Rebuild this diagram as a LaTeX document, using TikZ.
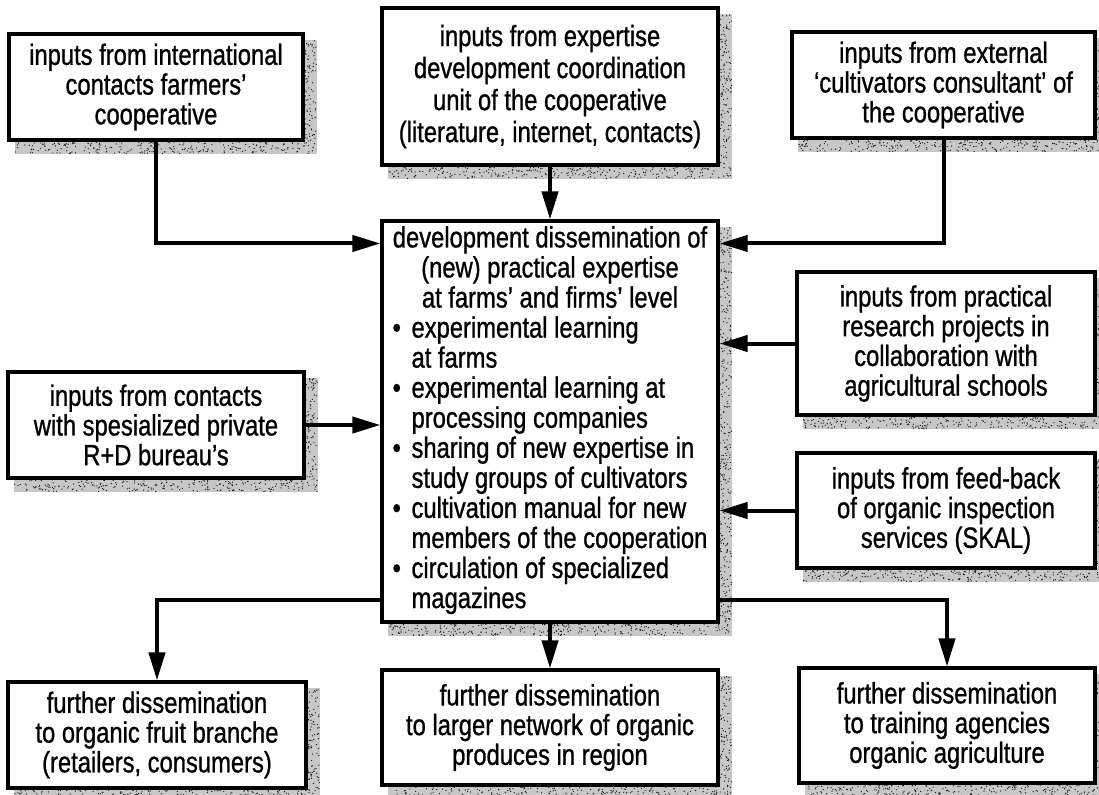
\documentclass[tikz,border=0pt]{standalone}
\usepackage{fontspec}
\setmainfont{Liberation Sans}[FakeStretch=0.81,FakeBold=0.9]
\usetikzlibrary{arrows.meta,calc,backgrounds}

\definecolor{grainbase}{gray}{0.78}
\definecolor{graindot}{gray}{0.10}

% speckled strip between two corners given in pt
\newcommand\grainstrip[4]{%
  \fill[grainbase] (#1pt,#2pt) rectangle (#3pt,#4pt);
  \pgfmathtruncatemacro\grN{max(2,abs((#3-#1)*(#4-#2))/8)}%
  \foreach \k in {1,...,\grN}{%
    \pgfmathsetmacro\grx{#1+rnd*(#3-#1)}%
    \pgfmathsetmacro\gry{#2+rnd*(#4-#2)}%
    \fill[graindot] (\grx pt,\gry pt) circle (0.5pt);}}

% grainy drop shadow on the right and lower side of a node
\newcommand\boxshadow[1]{%
  \pgfpointanchor{#1}{north east}\pgfgetlastxy{\shNEx}{\shNEy}%
  \pgfpointanchor{#1}{south west}\pgfgetlastxy{\shSWx}{\shSWy}%
  \pgfmathsetmacro\shX{\shNEx}%
  \pgfmathsetmacro\shY{\shSWy}%
  \pgfmathsetmacro\shR{\shNEx+9}%
  \pgfmathsetmacro\shL{\shSWx+6}%
  \pgfmathsetmacro\shB{\shSWy-9}%
  \pgfmathsetmacro\shT{\shNEy-6}%
  \grainstrip{\shX}{\shB}{\shR}{\shT}%
  \grainstrip{\shL}{\shB}{\shR}{\shY}}

\begin{document}
\begin{tikzpicture}[x=0.75pt,y=-0.75pt,
  box/.style={draw, line width=2.3pt, fill=white, align=center, inner sep=0pt,
              font=\fontsize{22}{22.3}\selectfont},
  wh/.style 2 args={minimum width=#1*0.75pt, minimum height=#2*0.75pt},
  txt/.style={inner sep=0pt, font=\fontsize{22}{22}\selectfont},
  link/.style={line width=3pt, -{Triangle[length=21pt,width=12pt]}}]
\pgfmathsetseed{7}
\useasboundingbox (0,0) rectangle (1099,794);

% input boxes
\node[box, wh={294}{106}] (TL) at (156,87)
  {inputs from international\\contacts farmers'\\cooperative};
\node[box, wh={336}{157}, font=\fontsize{22}{24}\selectfont] (TC) at (550,86.5)
  {inputs from expertise\\development coordination\\unit of the cooperative\\(literature, internet, contacts)};
\node[box, wh={303}{106}] (TR) at (943.5,85)
  {inputs from external\\`cultivators consultant' of\\the cooperative};

% central box
\node[box, wh={336}{401}] (C) at (550,421.5) {};
\node[txt] (Ctext) at (C.center) {%
  \begin{tabular}{@{}l@{\hspace{8pt}}l@{}}
  \multicolumn{2}{@{}c@{}}{development dissemination of}\\
  \multicolumn{2}{@{}c@{}}{(new) practical expertise}\\
  \multicolumn{2}{@{}c@{}}{at farms' and firms' level}\\
  \textbullet & experimental learning\\
              & at farms\\
  \textbullet & experimental learning at\\
              & processing companies\\
  \textbullet & sharing of new expertise in\\
              & study groups of cultivators\\
  \textbullet & cultivation manual for new\\
              & members of the cooperation\\
  \textbullet & circulation of specialized\\
              & magazines
  \end{tabular}};

% side inputs
\node[box, wh={298}{143}] (R1) at (946,343.5)
  {inputs from practical\\research projects in\\collaboration with\\agricultural schools};
\node[box, wh={296}{106}] (L) at (156,425)
  {inputs from contacts\\with spesialized private\\R+D bureau's};
\node[box, wh={298}{115}] (R2) at (946,510.5)
  {inputs from feed-back\\of organic inspection\\services (SKAL)};

% outputs
\node[box, wh={298}{106}] (BL) at (157,735)
  {further dissemination\\to organic fruit branche\\(retailers, consumers)};
\node[box, wh={336}{115}] (BC) at (550,727.5)
  {further dissemination\\to larger network of organic\\produces in region};
\node[box, wh={296}{115}] (BR) at (947,725.5)
  {further dissemination\\to training agencies\\organic agriculture};

% shadows
\begin{pgfonlayer}{background}
  \fill[white] (0,0) rectangle (1099,794);
  \foreach \b in {TL,TC,TR,C,R1,L,R2,BL,BC,BR}{\boxshadow{\b}}
\end{pgfonlayer}

% connectors
\coordinate (inTL) at ($(C.north west)+(0,24)$);
\coordinate (inTR) at ($(C.north east)+(0,24)$);
\coordinate (outBL) at ($(C.south west)+(0,-24)$);
\coordinate (outBR) at ($(C.south east)+(0,-24)$);

\draw[link] (TL.south) |- (inTL);
\draw[link] (TC.south) -- (C.north);
\draw[link] (TR.south) |- (inTR);
\draw[link] (R1.west) -- (R1.west -| C.east);
\draw[link] (L.east) -- (L.east -| C.west);
\draw[link] (R2.west) -- (R2.west -| C.east);
\draw[link] (outBL) -| (BL.north);
\draw[link] (C.south) -- (BC.north);
\draw[link] (outBR) -| (BR.north);
\end{tikzpicture}
\end{document}
